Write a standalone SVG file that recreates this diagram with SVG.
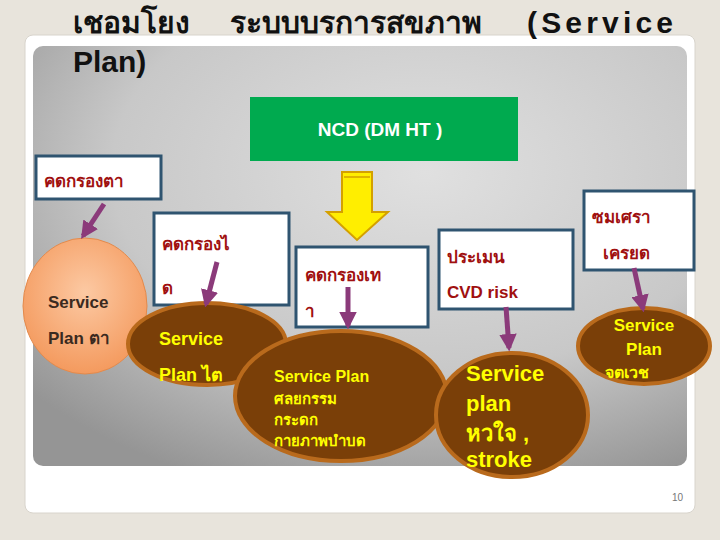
<svg xmlns="http://www.w3.org/2000/svg" width="720" height="540" viewBox="0 0 720 540">
<defs>
<radialGradient id="bg" cx="0.6" cy="0.3" r="0.8">
<stop offset="0" stop-color="#e0e0e0"/><stop offset="0.6" stop-color="#c8c8c8"/><stop offset="1" stop-color="#959595"/>
</radialGradient>
<radialGradient id="org" cx="0.5" cy="0.4" r="0.6">
<stop offset="0" stop-color="#fcc9a3"/><stop offset="1" stop-color="#f49a5e"/>
</radialGradient>
<marker id="ah" viewBox="0 0 10 10" refX="8" refY="5" markerWidth="3.5" markerHeight="3.5" orient="auto">
<path d="M0,0 L10,5 L0,10 z" fill="#8b3a7a"/>
</marker>
<style>
.box{fill:#fff;stroke:#2f5470;stroke-width:3}
.rt{font-family:"Liberation Sans","Noto Sans",sans-serif;font-weight:bold;fill:#a01010;font-size:17px}
.ell{fill:#7a3f08;stroke:#b96a1c;stroke-width:4}
.yt{font-family:"Liberation Sans","Noto Sans",sans-serif;font-weight:bold;fill:#ffff00}
.ar{stroke:#8b3a7a;stroke-width:5;fill:none;marker-end:url(#ah)}
</style>
</defs>
<rect width="720" height="540" fill="#e8e4dc"/>
<rect x="25" y="35" width="670" height="478" rx="8" fill="#fff" stroke="#d8d4cc"/>
<rect x="33" y="46" width="654" height="420" rx="10" fill="url(#bg)"/>
<g id="title" font-family="'Liberation Sans','Noto Sans',sans-serif" font-weight="bold" font-size="30" fill="#111">
<text x="73" y="33">เชอมโยง</text><text x="230" y="33">ระบบบรการสขภาพ</text><text x="527" y="33" textLength="146">(Service</text>
<text x="73" y="72">Plan)</text>
</g>
<g id="ncd"><rect x="250" y="97" width="268" height="64" fill="#00aa4f"/>
<text x="380" y="136" text-anchor="middle" font-family="'Liberation Sans',sans-serif" font-weight="bold" font-size="19" fill="#fff">NCD (DM HT )</text></g>
<g id="bigarrow"><path d="M342,172 H372 V212 H388 L357,240 L327,212 H342 Z" fill="#ffee00" stroke="#d4a000" stroke-width="2"/>
<line x1="344" y1="177" x2="370" y2="177" stroke="#d4a000" stroke-width="1.5"/></g>
<g id="eye-box"><rect class="box" x="36" y="156" width="125" height="43"/><text class="rt" x="44" y="187">คดกรองตา</text></g>
<g id="eye"><ellipse cx="85" cy="306" rx="62" ry="68" fill="url(#org)" stroke="#e38a4c"/>
<text x="48" y="308" font-family="'Liberation Sans',sans-serif" font-weight="bold" font-size="17" fill="#3a2a20">Service</text>
<text x="48" y="344" font-family="'Liberation Sans',sans-serif" font-weight="bold" font-size="17" fill="#3a2a20">Plan ตา</text></g>
<g id="kidney-box"><rect class="box" x="154" y="213" width="135" height="92"/><text class="rt" x="162" y="250" font-size="20">คดกรองไ</text><text class="rt" x="162" y="294" font-size="20">ด</text></g>
<g id="kidney"><ellipse class="ell" cx="207" cy="344" rx="79" ry="41"/>
<text class="yt" x="159" y="345" font-size="18">Service</text><text class="yt" x="159" y="381" font-size="18">Plan ไต</text></g>
<g id="bone-box"><rect class="box" x="296" y="247" width="132" height="80"/><text class="rt" x="305" y="281">คดกรองเท</text><text class="rt" x="305" y="317">า</text></g>
<g id="bone"><ellipse class="ell" cx="341" cy="396" rx="106" ry="65"/>
<text class="yt" x="274" y="382" font-size="16">Service Plan</text><text class="yt" x="274" y="404" font-size="15">ศลยกรรม</text>
<text class="yt" x="274" y="425" font-size="15">กระดก</text><text class="yt" x="274" y="446" font-size="15">กายภาพบำบด</text></g>
<g id="cvd-box"><rect class="box" x="439" y="230" width="134" height="79"/><text class="rt" x="447" y="263">ประเมน</text><text class="rt" x="447" y="298">CVD risk</text></g>
<g id="heart"><ellipse class="ell" cx="512" cy="415" rx="76" ry="62"/>
<text class="yt" x="466" y="381" font-size="22">Service</text><text class="yt" x="466" y="411" font-size="22">plan</text>
<text class="yt" x="466" y="441" font-size="22">หวใจ  ,</text><text class="yt" x="466" y="467" font-size="22">stroke</text></g>
<g id="mental-box"><rect class="box" x="584" y="191" width="110" height="79"/><text class="rt" x="592" y="223">ซมเศรา</text><text class="rt" x="603" y="259">เครยด</text></g>
<g id="mental"><ellipse class="ell" cx="644" cy="346" rx="66" ry="38"/>
<text class="yt" x="644" y="331" font-size="17" text-anchor="middle">Service</text><text class="yt" x="644" y="355" font-size="17" text-anchor="middle">Plan</text>
<text class="yt" x="627" y="378" font-size="16" text-anchor="middle">จตเวช</text></g>
<g id="connectors">
<line class="ar" x1="104" y1="204" x2="83" y2="236"/>
<line class="ar" x1="217" y1="262" x2="206" y2="304"/>
<line class="ar" x1="348" y1="287" x2="348" y2="326"/>
<line class="ar" x1="506" y1="307" x2="509" y2="348"/>
<line class="ar" x1="634" y1="268" x2="643" y2="309"/>
</g>
<text x="683" y="501" font-family="'Liberation Sans',sans-serif" font-size="10" fill="#777" text-anchor="end">10</text>
</svg>
